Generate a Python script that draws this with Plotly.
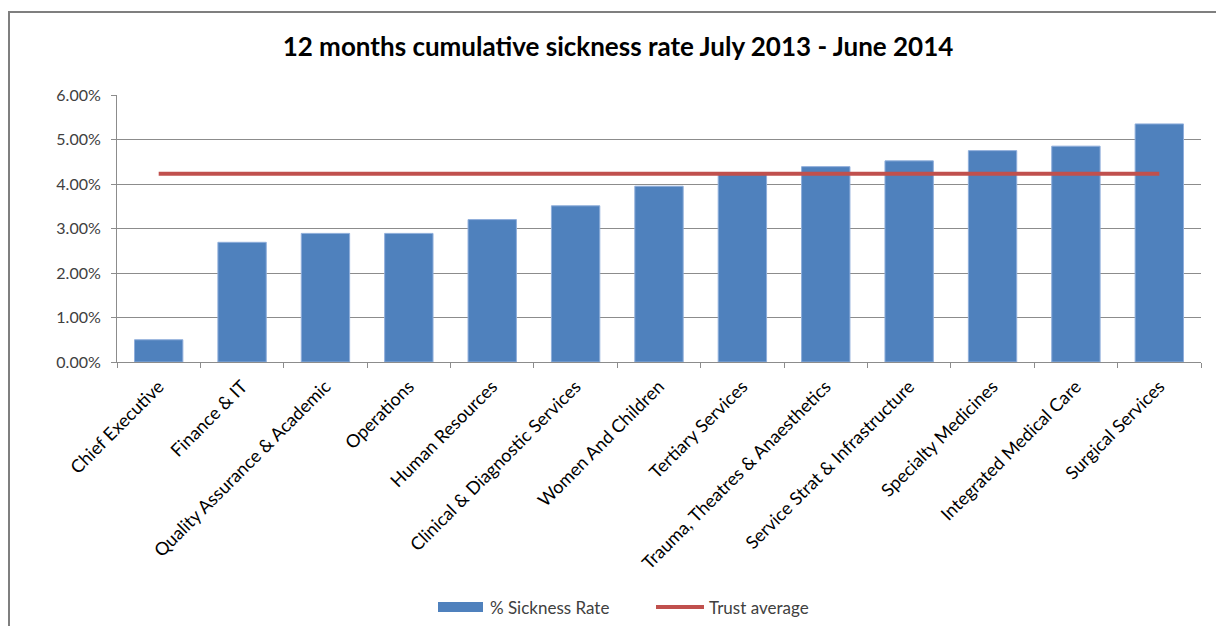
import plotly.graph_objects as go

# Directorates, ordered by sickness rate
departments = [
    "Chief Executive", "Finance & IT", "Quality Assurance & Academic",
    "Operations", "Human Resources", "Clinical & Diagnostic Services",
    "Women And Children", "Tertiary Services", "Trauma, Theatres & Anaesthetics",
    "Service Strat & Infrastructure", "Specialty Medicines",
    "Integrated Medical Care", "Surgical Services",
]
sickness_rate = [0.0050, 0.0269, 0.0289, 0.0289, 0.0320, 0.0351, 0.0395,
                 0.0424, 0.0439, 0.0452, 0.0475, 0.0485, 0.0535]
trust_average = 0.0423
y_ticks = [0.00, 0.01, 0.02, 0.03, 0.04, 0.05, 0.06]

W, H = 1216, 626
ML, MR, MT, MB = 117, 15, 95, 264
PW, PH = W - ML - MR, H - MT - MB

def px_x(px):
    return (px - ML) / PW

def px_y(py):
    return (H - MB - py) / PH

FONT = "Lato, 'Open Sans', sans-serif"
BLUE = "#4F81BD"
RED = "#C0504D"
GRID = "#8C8C8C"

fig = go.Figure()
fig.add_trace(go.Bar(
    x=departments, y=sickness_rate, name="% Sickness Rate",
    marker=dict(color=BLUE, line=dict(color="#8FAEDB", width=1)),
    width=0.58, showlegend=False,
))
fig.add_trace(go.Scatter(
    x=departments, y=[trust_average] * len(departments), name="Trust average",
    mode="lines", line=dict(color=RED, width=4), showlegend=False,
))

shapes = [
    # chart frame
    dict(type="rect", xref="paper", yref="paper",
         x0=px_x(9), x1=px_x(1240), y0=px_y(12), y1=px_y(660),
         line=dict(color="#7F7F7F", width=2), layer="below"),
    # legend swatches
    dict(type="rect", xref="paper", yref="paper",
         x0=px_x(438), x1=px_x(483), y0=px_y(612), y1=px_y(602),
         fillcolor=BLUE, line=dict(width=0)),
    dict(type="line", xref="paper", yref="paper",
         x0=px_x(656), x1=px_x(704), y0=px_y(607), y1=px_y(607),
         line=dict(color=RED, width=4)),
]
annotations = [
    dict(text="% Sickness Rate", xref="paper", yref="paper",
         x=px_x(488), y=px_y(607), xanchor="left", yanchor="middle",
         showarrow=False, font=dict(family=FONT, size=17, color="#404040")),
    dict(text="Trust average", xref="paper", yref="paper",
         x=px_x(707), y=px_y(607), xanchor="left", yanchor="middle",
         showarrow=False, font=dict(family=FONT, size=17, color="#404040")),
]

fig.update_layout(
    width=W, height=H,
    margin=dict(l=ML, r=MR, t=MT, b=MB),
    paper_bgcolor="white", plot_bgcolor="white",
    title=dict(text="<b>12 months cumulative sickness rate July 2013 - June 2014</b>",
               xref="container", x=618 / W, xanchor="center",
               yref="container", y=1 - 47 / H, yanchor="middle",
               font=dict(family=FONT, size=26, color="#000000")),
    font=dict(family=FONT, size=16, color="#404040"),
    shapes=shapes, annotations=annotations,
)
fig.update_xaxes(
    showline=True, linecolor=GRID, linewidth=1,
    ticks="outside", tickson="boundaries", ticklen=5, tickcolor=GRID,
    tickangle=-45, tickfont=dict(family=FONT, size=18, color="#000000"),
    ticklabelstandoff=6, showgrid=False,
)
fig.update_yaxes(
    range=[0, 0.06], tickvals=y_ticks, tickformat=".2%",
    showline=True, linecolor=GRID, linewidth=1,
    ticks="outside", ticklen=5, tickcolor=GRID,
    showgrid=True, gridcolor=GRID, gridwidth=1, zeroline=False,
    tickfont=dict(family=FONT, size=16, color="#404040"),
    ticklabelstandoff=7,
)

fig.write_html("out.html")
